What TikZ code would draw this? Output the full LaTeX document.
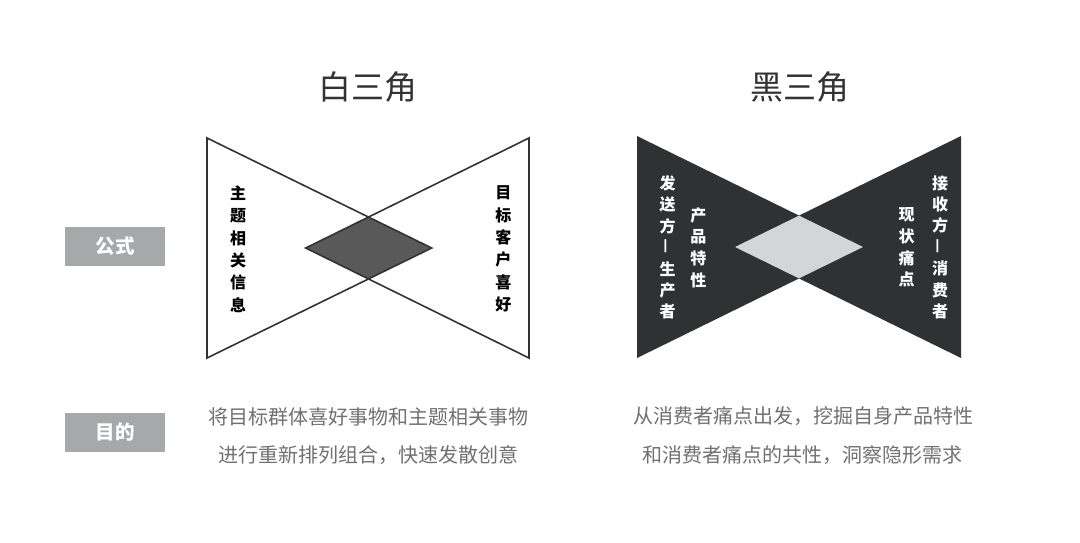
\documentclass[tikz,border=0pt]{standalone}
\usepackage{fontspec}
\setmainfont{Noto Sans CJK SC}
\usepackage{graphicx}
\definecolor{linegray}{HTML}{333333}
\definecolor{darkdia}{HTML}{595959}
\definecolor{blacktri}{HTML}{303133}
\definecolor{lightdia}{HTML}{D4D5D6}
\definecolor{labelbox}{HTML}{A6A8A9}
\definecolor{titlecol}{HTML}{333333}
\definecolor{bodycol}{HTML}{707070}
\tikzset{
  titletext/.style={text=titlecol, font=\fontsize{33}{40}\selectfont, inner sep=0pt},
  bodytext/.style={text=bodycol, font=\fontsize{20}{24}\selectfont, inner sep=0pt},
  vtext/.style={font=\fontsize{16}{22.4}\selectfont\bfseries, align=center, inner sep=0pt},
  vtextb/.style={font=\fontsize{16}{21.4}\selectfont\bfseries, align=center, inner sep=0pt},
  vtextc/.style={font=\fontsize{16}{21.7}\selectfont\bfseries, align=center, inner sep=0pt},
  labelbox/.style={fill=labelbox, text=white, minimum width=100pt, minimum height=39.5pt, inner sep=0pt, font=\fontsize{19.5}{22}\selectfont\bfseries},
  outline/.style={draw=linegray, line width=1.6pt, line join=miter},
}
\newcommand{\vdashchar}{\rotatebox{90}{—}}
\begin{document}
\begin{tikzpicture}[x=1pt,y=-1pt]
\useasboundingbox (0,0) rectangle (1080,542);
% titles
\node[titletext] (t1) at (368,87) {白三角};
\node[titletext] (t2) at (800,87) {黑三角};
% labels
\node[labelbox] (l1) at (115,246.5) {公式};
\node[labelbox] (l2) at (115,432.5) {目的};
% white bowtie
\fill[darkdia] (305.7,248) -- (368,216.8) -- (431.7,248) -- (368,279.2) -- cycle;
\draw[outline] (207,138) -- (207,358) -- (431.7,248) -- cycle;
\draw[outline] (529,138) -- (529,358) -- (305.7,248) -- cycle;
% black bowtie
\fill[blacktri] (637,136) -- (637,358) -- (863,247) -- cycle;
\fill[blacktri] (961,136) -- (961,358) -- (735,247) -- cycle;
\fill[lightdia] (735,247) -- (799,215.6) -- (863,247) -- (799,278.4) -- cycle;
% vertical texts white
\node[vtext, text=black] (w1) at (238,249) {主\\题\\相\\关\\信\\息};
\node[vtext, text=black] (w2) at (503.3,249) {目\\标\\客\\户\\喜\\好};
% vertical texts black
\node[vtextb, text=white] (b1) at (667.7,247.5) {发\\送\\方\\\vdashchar\\生\\产\\者};
\node[vtextc, text=white] (b2) at (698.3,247.5) {产\\品\\特\\性};
\node[vtextc, text=white] (b3) at (906.7,247.5) {现\\状\\痛\\点};
\node[vtextb, text=white] (b4) at (940,247.2) {接\\收\\方\\\vdashchar\\消\\费\\者};
% body texts
\node[bodytext] (p1) at (368.3,416.5) {将目标群体喜好事物和主题相关事物};
\node[bodytext] (p2) at (368.3,455) {进行重新排列组合，快速发散创意};
\node[bodytext] (p3) at (803.3,416.5) {从消费者痛点出发，挖掘自身产品特性};
\node[bodytext] (p4) at (802.3,455) {和消费者痛点的共性，洞察隐形需求};
\end{tikzpicture}
\end{document}
